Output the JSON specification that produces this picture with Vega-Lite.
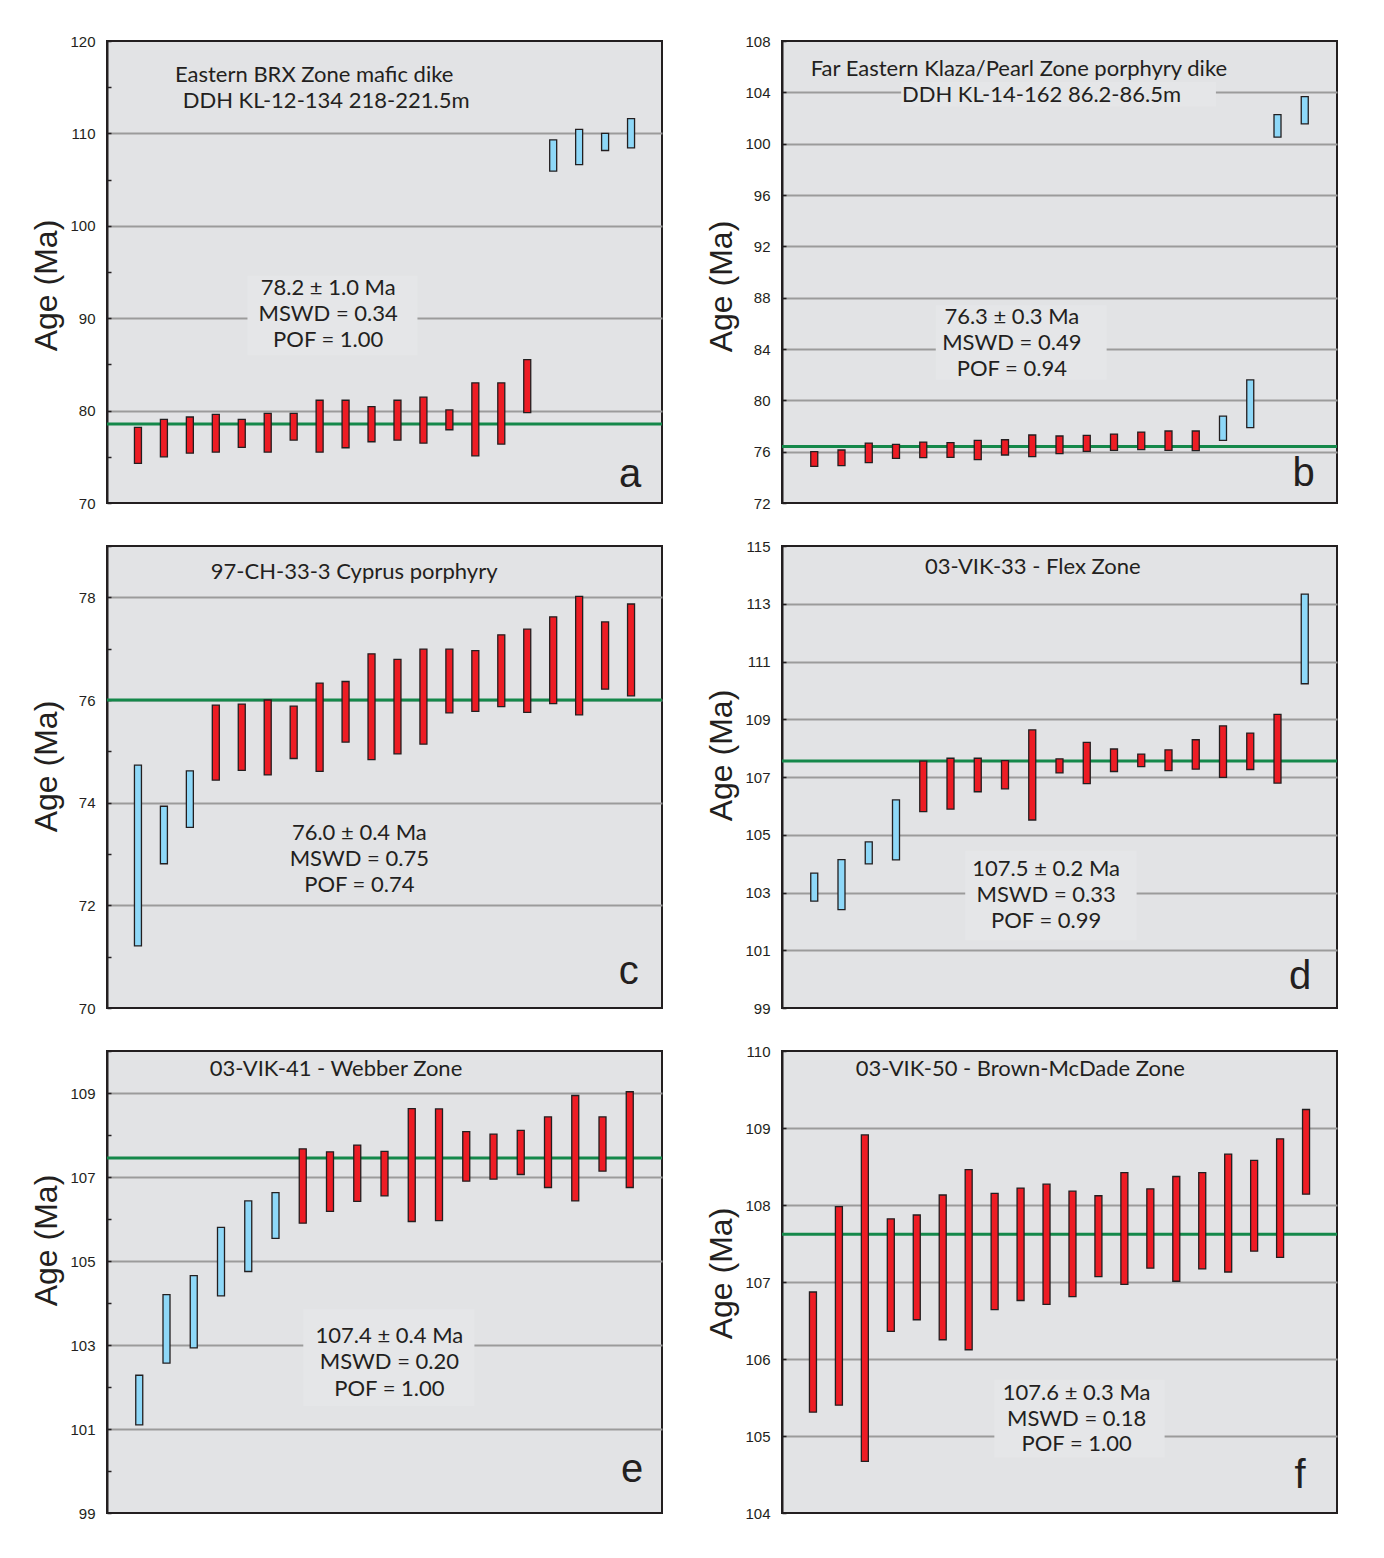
{
"$schema": "https://vega.github.io/schema/vega-lite/v6.json",
"background": "white",
"padding": {"left": 29, "top": 33, "right": 5, "bottom": 5},
"config": {
  "view": {"stroke": "#231f20", "strokeWidth": 2, "fill": "#e2e3e5"},
  "axis": {"labelFont": "Liberation Sans", "labelFontSize": 15, "labelColor": "#231f20", "labelFlush": false, "labelOverlap": false,
    "titleFont": "Liberation Sans", "titleFontSize": 32, "titleFontWeight": "normal", "titleColor": "#231f20",
    "domainColor": "#231f20", "domainWidth": 2, "tickColor": "#231f20", "tickWidth": 1.5, "tickSize": -4, "labelPadding": 16,
    "gridColor": "#9b9b9b", "gridWidth": 2, "titlePadding": 6, "grid": true}
},
"datasets": {
  "bars": [
    {"panel":"a","n":1,"lo":74.28,"hi":78.19,"fit":"in"},
    {"panel":"a","n":2,"lo":75.00,"hi":79.06,"fit":"in"},
    {"panel":"a","n":3,"lo":75.40,"hi":79.31,"fit":"in"},
    {"panel":"a","n":4,"lo":75.51,"hi":79.60,"fit":"in"},
    {"panel":"a","n":5,"lo":76.01,"hi":79.06,"fit":"in"},
    {"panel":"a","n":6,"lo":75.51,"hi":79.71,"fit":"in"},
    {"panel":"a","n":7,"lo":76.81,"hi":79.71,"fit":"in"},
    {"panel":"a","n":8,"lo":75.51,"hi":81.12,"fit":"in"},
    {"panel":"a","n":9,"lo":75.98,"hi":81.12,"fit":"in"},
    {"panel":"a","n":10,"lo":76.63,"hi":80.43,"fit":"in"},
    {"panel":"a","n":11,"lo":76.81,"hi":81.12,"fit":"in"},
    {"panel":"a","n":12,"lo":76.49,"hi":81.45,"fit":"in"},
    {"panel":"a","n":13,"lo":77.93,"hi":80.07,"fit":"in"},
    {"panel":"a","n":14,"lo":75.11,"hi":83.00,"fit":"in"},
    {"panel":"a","n":15,"lo":76.38,"hi":83.00,"fit":"in"},
    {"panel":"a","n":16,"lo":79.78,"hi":85.51,"fit":"in"},
    {"panel":"a","n":17,"lo":105.91,"hi":109.31,"fit":"out"},
    {"panel":"a","n":18,"lo":106.63,"hi":110.43,"fit":"out"},
    {"panel":"a","n":19,"lo":108.15,"hi":110.00,"fit":"out"},
    {"panel":"a","n":20,"lo":108.44,"hi":111.59,"fit":"out"},
    {"panel":"b","n":1,"lo":74.86,"hi":76.00,"fit":"in"},
    {"panel":"b","n":2,"lo":74.91,"hi":76.13,"fit":"in"},
    {"panel":"b","n":3,"lo":75.15,"hi":76.67,"fit":"in"},
    {"panel":"b","n":4,"lo":75.48,"hi":76.57,"fit":"in"},
    {"panel":"b","n":5,"lo":75.53,"hi":76.75,"fit":"in"},
    {"panel":"b","n":6,"lo":75.56,"hi":76.70,"fit":"in"},
    {"panel":"b","n":7,"lo":75.38,"hi":76.88,"fit":"in"},
    {"panel":"b","n":8,"lo":75.74,"hi":76.93,"fit":"in"},
    {"panel":"b","n":9,"lo":75.61,"hi":77.30,"fit":"in"},
    {"panel":"b","n":10,"lo":75.84,"hi":77.22,"fit":"in"},
    {"panel":"b","n":11,"lo":76.03,"hi":77.27,"fit":"in"},
    {"panel":"b","n":12,"lo":76.10,"hi":77.37,"fit":"in"},
    {"panel":"b","n":13,"lo":76.16,"hi":77.53,"fit":"in"},
    {"panel":"b","n":14,"lo":76.10,"hi":77.61,"fit":"in"},
    {"panel":"b","n":15,"lo":76.08,"hi":77.61,"fit":"in"},
    {"panel":"b","n":16,"lo":76.88,"hi":78.77,"fit":"out"},
    {"panel":"b","n":17,"lo":77.87,"hi":81.60,"fit":"out"},
    {"panel":"b","n":18,"lo":100.51,"hi":102.27,"fit":"out"},
    {"panel":"b","n":19,"lo":101.54,"hi":103.67,"fit":"out"},
    {"panel":"c","n":1,"lo":71.21,"hi":74.73,"fit":"out"},
    {"panel":"c","n":2,"lo":72.81,"hi":73.93,"fit":"out"},
    {"panel":"c","n":3,"lo":73.52,"hi":74.62,"fit":"out"},
    {"panel":"c","n":4,"lo":74.44,"hi":75.90,"fit":"in"},
    {"panel":"c","n":5,"lo":74.63,"hi":75.92,"fit":"in"},
    {"panel":"c","n":6,"lo":74.54,"hi":76.00,"fit":"in"},
    {"panel":"c","n":7,"lo":74.86,"hi":75.88,"fit":"in"},
    {"panel":"c","n":8,"lo":74.61,"hi":76.33,"fit":"in"},
    {"panel":"c","n":9,"lo":75.18,"hi":76.36,"fit":"in"},
    {"panel":"c","n":10,"lo":74.84,"hi":76.90,"fit":"in"},
    {"panel":"c","n":11,"lo":74.95,"hi":76.79,"fit":"in"},
    {"panel":"c","n":12,"lo":75.14,"hi":76.99,"fit":"in"},
    {"panel":"c","n":13,"lo":75.75,"hi":76.99,"fit":"in"},
    {"panel":"c","n":14,"lo":75.78,"hi":76.96,"fit":"in"},
    {"panel":"c","n":15,"lo":75.87,"hi":77.27,"fit":"in"},
    {"panel":"c","n":16,"lo":75.76,"hi":77.38,"fit":"in"},
    {"panel":"c","n":17,"lo":75.93,"hi":77.62,"fit":"in"},
    {"panel":"c","n":18,"lo":75.71,"hi":78.02,"fit":"in"},
    {"panel":"c","n":19,"lo":76.21,"hi":77.52,"fit":"in"},
    {"panel":"c","n":20,"lo":76.08,"hi":77.87,"fit":"in"},
    {"panel":"d","n":1,"lo":102.70,"hi":103.67,"fit":"out"},
    {"panel":"d","n":2,"lo":102.41,"hi":104.14,"fit":"out"},
    {"panel":"d","n":3,"lo":103.99,"hi":104.75,"fit":"out"},
    {"panel":"d","n":4,"lo":104.13,"hi":106.21,"fit":"out"},
    {"panel":"d","n":5,"lo":105.80,"hi":107.55,"fit":"in"},
    {"panel":"d","n":6,"lo":105.89,"hi":107.65,"fit":"in"},
    {"panel":"d","n":7,"lo":106.49,"hi":107.65,"fit":"in"},
    {"panel":"d","n":8,"lo":106.59,"hi":107.57,"fit":"in"},
    {"panel":"d","n":9,"lo":105.51,"hi":108.63,"fit":"in"},
    {"panel":"d","n":10,"lo":107.14,"hi":107.63,"fit":"in"},
    {"panel":"d","n":11,"lo":106.77,"hi":108.20,"fit":"in"},
    {"panel":"d","n":12,"lo":107.19,"hi":107.97,"fit":"in"},
    {"panel":"d","n":13,"lo":107.36,"hi":107.79,"fit":"in"},
    {"panel":"d","n":14,"lo":107.22,"hi":107.94,"fit":"in"},
    {"panel":"d","n":15,"lo":107.27,"hi":108.29,"fit":"in"},
    {"panel":"d","n":16,"lo":106.99,"hi":108.77,"fit":"in"},
    {"panel":"d","n":17,"lo":107.26,"hi":108.52,"fit":"in"},
    {"panel":"d","n":18,"lo":106.79,"hi":109.17,"fit":"in"},
    {"panel":"d","n":19,"lo":110.23,"hi":113.33,"fit":"out"},
    {"panel":"e","n":1,"lo":101.10,"hi":102.28,"fit":"out"},
    {"panel":"e","n":2,"lo":102.57,"hi":104.20,"fit":"out"},
    {"panel":"e","n":3,"lo":102.93,"hi":104.65,"fit":"out"},
    {"panel":"e","n":4,"lo":104.17,"hi":105.80,"fit":"out"},
    {"panel":"e","n":5,"lo":104.75,"hi":106.43,"fit":"out"},
    {"panel":"e","n":6,"lo":105.54,"hi":106.63,"fit":"out"},
    {"panel":"e","n":7,"lo":105.90,"hi":107.67,"fit":"in"},
    {"panel":"e","n":8,"lo":106.18,"hi":107.60,"fit":"in"},
    {"panel":"e","n":9,"lo":106.42,"hi":107.76,"fit":"in"},
    {"panel":"e","n":10,"lo":106.55,"hi":107.61,"fit":"in"},
    {"panel":"e","n":11,"lo":105.94,"hi":108.63,"fit":"in"},
    {"panel":"e","n":12,"lo":105.96,"hi":108.62,"fit":"in"},
    {"panel":"e","n":13,"lo":106.90,"hi":108.08,"fit":"in"},
    {"panel":"e","n":14,"lo":106.95,"hi":108.02,"fit":"in"},
    {"panel":"e","n":15,"lo":107.06,"hi":108.11,"fit":"in"},
    {"panel":"e","n":16,"lo":106.75,"hi":108.43,"fit":"in"},
    {"panel":"e","n":17,"lo":106.43,"hi":108.94,"fit":"in"},
    {"panel":"e","n":18,"lo":107.14,"hi":108.43,"fit":"in"},
    {"panel":"e","n":19,"lo":106.75,"hi":109.03,"fit":"in"},
    {"panel":"f","n":1,"lo":105.31,"hi":106.87,"fit":"in"},
    {"panel":"f","n":2,"lo":105.40,"hi":107.98,"fit":"in"},
    {"panel":"f","n":3,"lo":104.67,"hi":108.91,"fit":"in"},
    {"panel":"f","n":4,"lo":106.36,"hi":107.82,"fit":"in"},
    {"panel":"f","n":5,"lo":106.51,"hi":107.87,"fit":"in"},
    {"panel":"f","n":6,"lo":106.25,"hi":108.13,"fit":"in"},
    {"panel":"f","n":7,"lo":106.12,"hi":108.46,"fit":"in"},
    {"panel":"f","n":8,"lo":106.64,"hi":108.15,"fit":"in"},
    {"panel":"f","n":9,"lo":106.76,"hi":108.22,"fit":"in"},
    {"panel":"f","n":10,"lo":106.71,"hi":108.27,"fit":"in"},
    {"panel":"f","n":11,"lo":106.81,"hi":108.18,"fit":"in"},
    {"panel":"f","n":12,"lo":107.07,"hi":108.12,"fit":"in"},
    {"panel":"f","n":13,"lo":106.97,"hi":108.42,"fit":"in"},
    {"panel":"f","n":14,"lo":107.18,"hi":108.21,"fit":"in"},
    {"panel":"f","n":15,"lo":107.01,"hi":108.37,"fit":"in"},
    {"panel":"f","n":16,"lo":107.17,"hi":108.42,"fit":"in"},
    {"panel":"f","n":17,"lo":107.13,"hi":108.66,"fit":"in"},
    {"panel":"f","n":18,"lo":107.40,"hi":108.58,"fit":"in"},
    {"panel":"f","n":19,"lo":107.32,"hi":108.86,"fit":"in"},
    {"panel":"f","n":20,"lo":108.14,"hi":109.24,"fit":"in"}
  ],
  "means": [
    {"panel":"a","mean":78.55},{"panel":"b","mean":76.41},{"panel":"c","mean":76.0},
    {"panel":"d","mean":107.55},{"panel":"e","mean":107.45},{"panel":"f","mean":107.62}
  ],
  "notes": [
    {"panel":"a","x":7.79,"y":116.30,"text":"Eastern BRX Zone mafic dike"},
    {"panel":"a","x":8.25,"y":113.48,"text":"DDH KL-12-134 218-221.5m"},
    {"panel":"a","x":8.33,"y":93.26,"text":"78.2 ± 1.0 Ma"},
    {"panel":"a","x":8.33,"y":90.43,"text":"MSWD = 0.34"},
    {"panel":"a","x":8.33,"y":87.61,"text":"POF = 1.00"},
    {"panel":"b","x":8.51,"y":105.78,"text":"Far Eastern Klaza/Pearl Zone porphyry dike"},
    {"panel":"b","x":9.34,"y":103.76,"text":"DDH KL-14-162 86.2-86.5m"},
    {"panel":"b","x":8.25,"y":86.51,"text":"76.3 ± 0.3 Ma"},
    {"panel":"b","x":8.25,"y":84.47,"text":"MSWD = 0.49"},
    {"panel":"b","x":8.25,"y":82.45,"text":"POF = 0.94"},
    {"panel":"c","x":9.33,"y":78.49,"text":"97-CH-33-3 Cyprus porphyry"},
    {"panel":"c","x":9.53,"y":73.41,"text":"76.0 ± 0.4 Ma"},
    {"panel":"c","x":9.53,"y":72.91,"text":"MSWD = 0.75"},
    {"panel":"c","x":9.53,"y":72.40,"text":"POF = 0.74"},
    {"panel":"d","x":9.02,"y":114.28,"text":"03-VIK-33 - Flex Zone"},
    {"panel":"d","x":9.51,"y":103.83,"text":"107.5 ± 0.2 Ma"},
    {"panel":"d","x":9.51,"y":102.92,"text":"MSWD = 0.33"},
    {"panel":"d","x":9.51,"y":102.01,"text":"POF = 0.99"},
    {"panel":"e","x":8.22,"y":109.57,"text":"03-VIK-41 - Webber Zone"},
    {"panel":"e","x":10.18,"y":103.21,"text":"107.4 ± 0.4 Ma"},
    {"panel":"e","x":10.18,"y":102.59,"text":"MSWD = 0.20"},
    {"panel":"e","x":10.18,"y":101.96,"text":"POF = 1.00"},
    {"panel":"f","x":8.99,"y":109.76,"text":"03-VIK-50 - Brown-McDade Zone"},
    {"panel":"f","x":11.16,"y":105.56,"text":"107.6 ± 0.3 Ma"},
    {"panel":"f","x":11.16,"y":105.22,"text":"MSWD = 0.18"},
    {"panel":"f","x":11.16,"y":104.89,"text":"POF = 1.00"}
  ],
  "letters": [
    {"panel":"a","x":19.96,"y":71.74,"text":"a"},
    {"panel":"b","x":18.96,"y":73.30,"text":"b"},
    {"panel":"c","x":19.91,"y":70.46,"text":"c"},
    {"panel":"d","x":18.83,"y":99.66,"text":"d"},
    {"panel":"e","x":19.09,"y":99.75,"text":"e"},
    {"panel":"f","x":19.77,"y":104.32,"text":"f"}
  ],
  "masks": [
    {"panel":"a","x":5.22,"x2":11.77,"y":86.0,"y2":94.6},
    {"panel":"b","x":4.19,"x2":15.74,"y":102.9,"y2":104.8},
    {"panel":"b","x":5.46,"x2":11.73,"y":81.6,"y2":87.4},
    {"panel":"d","x":6.54,"x2":12.83,"y":101.35,"y2":104.45},
    {"panel":"e","x":7.02,"x2":13.30,"y":101.55,"y2":103.85},
    {"panel":"f","x":7.99,"x2":14.55,"y":104.72,"y2":105.73}
  ]
},
"columns": 2,
"spacing": {"row": 43, "column": 120},
"bounds": "flush",
"concat": [
  {"width": 555, "height": 462, "layer": [
    {"data": {"name": "masks"}, "transform": [{"filter": "datum.panel === 'a'"}], "mark": {"type": "rect", "fill": "#e5e6e8"},
     "encoding": {"x": {"field": "x", "type": "quantitative", "scale": {"domain": [0, 21], "nice": false, "zero": false}, "axis": null}, "x2": {"field": "x2"},
       "y": {"field": "y", "type": "quantitative", "scale": {"domain": [70, 120], "nice": false, "zero": false}}, "y2": {"field": "y2"}}},
    {"data": {"name": "means"}, "transform": [{"filter": "datum.panel === 'a'"}], "mark": {"type": "rule", "color": "#14884a", "strokeWidth": 3},
     "encoding": {"y": {"field": "mean", "type": "quantitative", "scale": {"domain": [70, 120], "nice": false, "zero": false}}}},
    {"data": {"name": "bars"}, "transform": [{"filter": "datum.panel === 'a'"}], "mark": {"type": "bar", "orient": "vertical", "size": 7, "stroke": "#231f20", "strokeWidth": 1.3},
     "encoding": {"x": {"field": "n", "type": "quantitative", "scale": {"domain": [0, 21], "nice": false, "zero": false}, "axis": null},
       "y": {"field": "lo", "type": "quantitative", "scale": {"domain": [70, 120], "nice": false, "zero": false},
         "axis": {"title": "Age (Ma)", "titlePadding": 6, "titleY": 244, "values": [70,75,80,85,90,95,100,105,110,115,120], "labelExpr": "datum.value % 10 === 0 ? datum.label : ''",
           "gridOpacity": {"condition": {"test": "datum.value % 10 === 0 && datum.value > 70 && datum.value < 120", "value": 1}, "value": 0}}},
       "y2": {"field": "hi"},
       "color": {"field": "fit", "type": "nominal", "scale": {"domain": ["in", "out"], "range": ["#ed1c24", "#8ed8f8"]}, "legend": null}}},
    {"data": {"name": "notes"}, "transform": [{"filter": "datum.panel === 'a'"}], "mark": {"type": "text", "font": "Lato", "fontSize": 22, "color": "#231f20", "align": "center", "baseline": "middle"},
     "encoding": {"x": {"field": "x", "type": "quantitative", "scale": {"domain": [0, 21], "nice": false, "zero": false}, "axis": null},
       "y": {"field": "y", "type": "quantitative", "scale": {"domain": [70, 120], "nice": false, "zero": false}}, "text": {"field": "text"}}},
    {"data": {"name": "letters"}, "transform": [{"filter": "datum.panel === 'a'"}], "mark": {"type": "text", "font": "Liberation Sans", "fontSize": 40, "color": "#231f20", "align": "center", "baseline": "alphabetic"},
     "encoding": {"x": {"field": "x", "type": "quantitative", "scale": {"domain": [0, 21], "nice": false, "zero": false}, "axis": null},
       "y": {"field": "y", "type": "quantitative", "scale": {"domain": [70, 120], "nice": false, "zero": false}}, "text": {"field": "text"}}}
  ]},
  {"width": 555, "height": 462, "layer": [
    {"data": {"name": "masks"}, "transform": [{"filter": "datum.panel === 'b'"}], "mark": {"type": "rect", "fill": "#e5e6e8"},
     "encoding": {"x": {"field": "x", "type": "quantitative", "scale": {"domain": [0, 20], "nice": false, "zero": false}, "axis": null}, "x2": {"field": "x2"},
       "y": {"field": "y", "type": "quantitative", "scale": {"domain": [72, 108], "nice": false, "zero": false}}, "y2": {"field": "y2"}}},
    {"data": {"name": "means"}, "transform": [{"filter": "datum.panel === 'b'"}], "mark": {"type": "rule", "color": "#14884a", "strokeWidth": 3},
     "encoding": {"y": {"field": "mean", "type": "quantitative", "scale": {"domain": [72, 108], "nice": false, "zero": false}}}},
    {"data": {"name": "bars"}, "transform": [{"filter": "datum.panel === 'b'"}], "mark": {"type": "bar", "orient": "vertical", "size": 7, "stroke": "#231f20", "strokeWidth": 1.3},
     "encoding": {"x": {"field": "n", "type": "quantitative", "scale": {"domain": [0, 20], "nice": false, "zero": false}, "axis": null},
       "y": {"field": "lo", "type": "quantitative", "scale": {"domain": [72, 108], "nice": false, "zero": false},
         "axis": {"title": "Age (Ma)", "titlePadding": 6, "titleY": 245, "values": [72,74,76,78,80,82,84,86,88,90,92,94,96,98,100,102,104,106,108], "labelExpr": "(datum.value - 72) % 4 === 0 ? datum.label : ''",
           "gridOpacity": {"condition": {"test": "(datum.value - 72) % 4 === 0 && datum.value > 72 && datum.value < 108", "value": 1}, "value": 0}}},
       "y2": {"field": "hi"},
       "color": {"field": "fit", "type": "nominal", "scale": {"domain": ["in", "out"], "range": ["#ed1c24", "#8ed8f8"]}, "legend": null}}},
    {"data": {"name": "notes"}, "transform": [{"filter": "datum.panel === 'b'"}], "mark": {"type": "text", "font": "Lato", "fontSize": 22, "color": "#231f20", "align": "center", "baseline": "middle"},
     "encoding": {"x": {"field": "x", "type": "quantitative", "scale": {"domain": [0, 20], "nice": false, "zero": false}, "axis": null},
       "y": {"field": "y", "type": "quantitative", "scale": {"domain": [72, 108], "nice": false, "zero": false}}, "text": {"field": "text"}}},
    {"data": {"name": "letters"}, "transform": [{"filter": "datum.panel === 'b'"}], "mark": {"type": "text", "font": "Liberation Sans", "fontSize": 40, "color": "#231f20", "align": "center", "baseline": "alphabetic"},
     "encoding": {"x": {"field": "x", "type": "quantitative", "scale": {"domain": [0, 20], "nice": false, "zero": false}, "axis": null},
       "y": {"field": "y", "type": "quantitative", "scale": {"domain": [72, 108], "nice": false, "zero": false}}, "text": {"field": "text"}}}
  ]},
  {"width": 555, "height": 462, "layer": [
    {"data": {"name": "means"}, "transform": [{"filter": "datum.panel === 'c'"}], "mark": {"type": "rule", "color": "#14884a", "strokeWidth": 3},
     "encoding": {"y": {"field": "mean", "type": "quantitative", "scale": {"domain": [70, 79], "nice": false, "zero": false}}}},
    {"data": {"name": "bars"}, "transform": [{"filter": "datum.panel === 'c'"}], "mark": {"type": "bar", "orient": "vertical", "size": 7, "stroke": "#231f20", "strokeWidth": 1.3},
     "encoding": {"x": {"field": "n", "type": "quantitative", "scale": {"domain": [0, 21], "nice": false, "zero": false}, "axis": null},
       "y": {"field": "lo", "type": "quantitative", "scale": {"domain": [70, 79], "nice": false, "zero": false},
         "axis": {"title": "Age (Ma)", "titlePadding": 15, "titleY": 220, "values": [70,71,72,73,74,75,76,77,78,79], "labelExpr": "datum.value % 2 === 0 ? datum.label : ''",
           "gridOpacity": {"condition": {"test": "datum.value % 2 === 0 && datum.value > 70", "value": 1}, "value": 0}}},
       "y2": {"field": "hi"},
       "color": {"field": "fit", "type": "nominal", "scale": {"domain": ["in", "out"], "range": ["#ed1c24", "#8ed8f8"]}, "legend": null}}},
    {"data": {"name": "notes"}, "transform": [{"filter": "datum.panel === 'c'"}], "mark": {"type": "text", "font": "Lato", "fontSize": 22, "color": "#231f20", "align": "center", "baseline": "middle"},
     "encoding": {"x": {"field": "x", "type": "quantitative", "scale": {"domain": [0, 21], "nice": false, "zero": false}, "axis": null},
       "y": {"field": "y", "type": "quantitative", "scale": {"domain": [70, 79], "nice": false, "zero": false}}, "text": {"field": "text"}}},
    {"data": {"name": "letters"}, "transform": [{"filter": "datum.panel === 'c'"}], "mark": {"type": "text", "font": "Liberation Sans", "fontSize": 40, "color": "#231f20", "align": "center", "baseline": "alphabetic"},
     "encoding": {"x": {"field": "x", "type": "quantitative", "scale": {"domain": [0, 21], "nice": false, "zero": false}, "axis": null},
       "y": {"field": "y", "type": "quantitative", "scale": {"domain": [70, 79], "nice": false, "zero": false}}, "text": {"field": "text"}}}
  ]},
  {"width": 555, "height": 462, "layer": [
    {"data": {"name": "masks"}, "transform": [{"filter": "datum.panel === 'd'"}], "mark": {"type": "rect", "fill": "#e5e6e8"},
     "encoding": {"x": {"field": "x", "type": "quantitative", "scale": {"domain": [0, 20], "nice": false, "zero": false}, "axis": null}, "x2": {"field": "x2"},
       "y": {"field": "y", "type": "quantitative", "scale": {"domain": [99, 115], "nice": false, "zero": false}}, "y2": {"field": "y2"}}},
    {"data": {"name": "means"}, "transform": [{"filter": "datum.panel === 'd'"}], "mark": {"type": "rule", "color": "#14884a", "strokeWidth": 3},
     "encoding": {"y": {"field": "mean", "type": "quantitative", "scale": {"domain": [99, 115], "nice": false, "zero": false}}}},
    {"data": {"name": "bars"}, "transform": [{"filter": "datum.panel === 'd'"}], "mark": {"type": "bar", "orient": "vertical", "size": 7, "stroke": "#231f20", "strokeWidth": 1.3},
     "encoding": {"x": {"field": "n", "type": "quantitative", "scale": {"domain": [0, 20], "nice": false, "zero": false}, "axis": null},
       "y": {"field": "lo", "type": "quantitative", "scale": {"domain": [99, 115], "nice": false, "zero": false},
         "axis": {"title": "Age (Ma)", "titlePadding": 6, "titleY": 209, "values": [99,100,101,102,103,104,105,106,107,108,109,110,111,112,113,114,115], "labelExpr": "datum.value % 2 === 1 ? datum.label : ''",
           "gridOpacity": {"condition": {"test": "datum.value % 2 === 1 && datum.value > 99 && datum.value < 115", "value": 1}, "value": 0}}},
       "y2": {"field": "hi"},
       "color": {"field": "fit", "type": "nominal", "scale": {"domain": ["in", "out"], "range": ["#ed1c24", "#8ed8f8"]}, "legend": null}}},
    {"data": {"name": "notes"}, "transform": [{"filter": "datum.panel === 'd'"}], "mark": {"type": "text", "font": "Lato", "fontSize": 22, "color": "#231f20", "align": "center", "baseline": "middle"},
     "encoding": {"x": {"field": "x", "type": "quantitative", "scale": {"domain": [0, 20], "nice": false, "zero": false}, "axis": null},
       "y": {"field": "y", "type": "quantitative", "scale": {"domain": [99, 115], "nice": false, "zero": false}}, "text": {"field": "text"}}},
    {"data": {"name": "letters"}, "transform": [{"filter": "datum.panel === 'd'"}], "mark": {"type": "text", "font": "Liberation Sans", "fontSize": 40, "color": "#231f20", "align": "center", "baseline": "alphabetic"},
     "encoding": {"x": {"field": "x", "type": "quantitative", "scale": {"domain": [0, 20], "nice": false, "zero": false}, "axis": null},
       "y": {"field": "y", "type": "quantitative", "scale": {"domain": [99, 115], "nice": false, "zero": false}}, "text": {"field": "text"}}}
  ]},
  {"width": 555, "height": 462, "layer": [
    {"data": {"name": "masks"}, "transform": [{"filter": "datum.panel === 'e'"}], "mark": {"type": "rect", "fill": "#e5e6e8"},
     "encoding": {"x": {"field": "x", "type": "quantitative", "scale": {"domain": [0, 20], "nice": false, "zero": false}, "axis": null}, "x2": {"field": "x2"},
       "y": {"field": "y", "type": "quantitative", "scale": {"domain": [99, 110], "nice": false, "zero": false}}, "y2": {"field": "y2"}}},
    {"data": {"name": "means"}, "transform": [{"filter": "datum.panel === 'e'"}], "mark": {"type": "rule", "color": "#14884a", "strokeWidth": 3},
     "encoding": {"y": {"field": "mean", "type": "quantitative", "scale": {"domain": [99, 110], "nice": false, "zero": false}}}},
    {"data": {"name": "bars"}, "transform": [{"filter": "datum.panel === 'e'"}], "mark": {"type": "bar", "orient": "vertical", "size": 7, "stroke": "#231f20", "strokeWidth": 1.3},
     "encoding": {"x": {"field": "n", "type": "quantitative", "scale": {"domain": [0, 20], "nice": false, "zero": false}, "axis": null},
       "y": {"field": "lo", "type": "quantitative", "scale": {"domain": [99, 110], "nice": false, "zero": false},
         "axis": {"title": "Age (Ma)", "titlePadding": 6, "titleY": 189, "values": [99,100,101,102,103,104,105,106,107,108,109,110], "labelExpr": "datum.value % 2 === 1 ? datum.label : ''",
           "gridOpacity": {"condition": {"test": "datum.value % 2 === 1 && datum.value > 99", "value": 1}, "value": 0}}},
       "y2": {"field": "hi"},
       "color": {"field": "fit", "type": "nominal", "scale": {"domain": ["in", "out"], "range": ["#ed1c24", "#8ed8f8"]}, "legend": null}}},
    {"data": {"name": "notes"}, "transform": [{"filter": "datum.panel === 'e'"}], "mark": {"type": "text", "font": "Lato", "fontSize": 22, "color": "#231f20", "align": "center", "baseline": "middle"},
     "encoding": {"x": {"field": "x", "type": "quantitative", "scale": {"domain": [0, 20], "nice": false, "zero": false}, "axis": null},
       "y": {"field": "y", "type": "quantitative", "scale": {"domain": [99, 110], "nice": false, "zero": false}}, "text": {"field": "text"}}},
    {"data": {"name": "letters"}, "transform": [{"filter": "datum.panel === 'e'"}], "mark": {"type": "text", "font": "Liberation Sans", "fontSize": 40, "color": "#231f20", "align": "center", "baseline": "alphabetic"},
     "encoding": {"x": {"field": "x", "type": "quantitative", "scale": {"domain": [0, 20], "nice": false, "zero": false}, "axis": null},
       "y": {"field": "y", "type": "quantitative", "scale": {"domain": [99, 110], "nice": false, "zero": false}}, "text": {"field": "text"}}}
  ]},
  {"width": 555, "height": 462, "layer": [
    {"data": {"name": "masks"}, "transform": [{"filter": "datum.panel === 'f'"}], "mark": {"type": "rect", "fill": "#e5e6e8"},
     "encoding": {"x": {"field": "x", "type": "quantitative", "scale": {"domain": [0, 21], "nice": false, "zero": false}, "axis": null}, "x2": {"field": "x2"},
       "y": {"field": "y", "type": "quantitative", "scale": {"domain": [104, 110], "nice": false, "zero": false}}, "y2": {"field": "y2"}}},
    {"data": {"name": "means"}, "transform": [{"filter": "datum.panel === 'f'"}], "mark": {"type": "rule", "color": "#14884a", "strokeWidth": 3},
     "encoding": {"y": {"field": "mean", "type": "quantitative", "scale": {"domain": [104, 110], "nice": false, "zero": false}}}},
    {"data": {"name": "bars"}, "transform": [{"filter": "datum.panel === 'f'"}], "mark": {"type": "bar", "orient": "vertical", "size": 7, "stroke": "#231f20", "strokeWidth": 1.3},
     "encoding": {"x": {"field": "n", "type": "quantitative", "scale": {"domain": [0, 21], "nice": false, "zero": false}, "axis": null},
       "y": {"field": "lo", "type": "quantitative", "scale": {"domain": [104, 110], "nice": false, "zero": false},
         "axis": {"title": "Age (Ma)", "titlePadding": 6, "titleY": 222, "format": "d", "values": [104,104.5,105,105.5,106,106.5,107,107.5,108,108.5,109,109.5,110], "labelExpr": "datum.value % 1 === 0 ? datum.label : ''",
           "gridOpacity": {"condition": {"test": "datum.value % 1 === 0 && datum.value > 104 && datum.value < 110", "value": 1}, "value": 0}}},
       "y2": {"field": "hi"},
       "color": {"field": "fit", "type": "nominal", "scale": {"domain": ["in", "out"], "range": ["#ed1c24", "#8ed8f8"]}, "legend": null}}},
    {"data": {"name": "notes"}, "transform": [{"filter": "datum.panel === 'f'"}], "mark": {"type": "text", "font": "Lato", "fontSize": 22, "color": "#231f20", "align": "center", "baseline": "middle"},
     "encoding": {"x": {"field": "x", "type": "quantitative", "scale": {"domain": [0, 21], "nice": false, "zero": false}, "axis": null},
       "y": {"field": "y", "type": "quantitative", "scale": {"domain": [104, 110], "nice": false, "zero": false}}, "text": {"field": "text"}}},
    {"data": {"name": "letters"}, "transform": [{"filter": "datum.panel === 'f'"}], "mark": {"type": "text", "font": "Liberation Sans", "fontSize": 40, "color": "#231f20", "align": "center", "baseline": "alphabetic"},
     "encoding": {"x": {"field": "x", "type": "quantitative", "scale": {"domain": [0, 21], "nice": false, "zero": false}, "axis": null},
       "y": {"field": "y", "type": "quantitative", "scale": {"domain": [104, 110], "nice": false, "zero": false}}, "text": {"field": "text"}}}
  ]}
]
}
